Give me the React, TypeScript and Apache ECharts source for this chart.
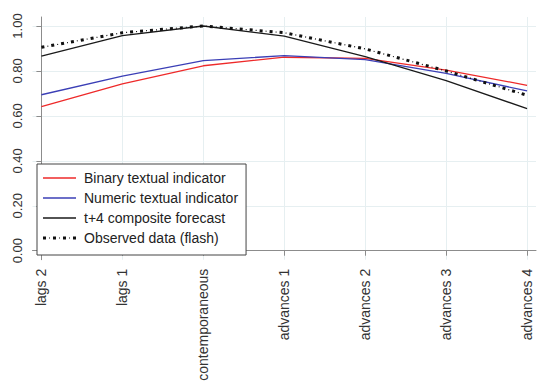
import React, { useEffect, useRef } from "react";
import * as echarts from "echarts";

const categories = [
  "lags 2",
  "lags 1",
  "contemporaneous",
  "advances 1",
  "advances 2",
  "advances 3",
  "advances 4",
];
const yTicks = [0, 0.2, 0.4, 0.6, 0.8, 1.0];

const binaryTextual = [0.641, 0.742, 0.823, 0.861, 0.856, 0.804, 0.736];
const numericTextual = [0.694, 0.777, 0.846, 0.868, 0.850, 0.789, 0.711];
const compositeForecast = [0.866, 0.957, 1.0, 0.955, 0.864, 0.757, 0.632];
const observedFlash = [0.905, 0.970, 1.0, 0.970, 0.898, 0.800, 0.692];

const seriesNames = [
  "Binary textual indicator",
  "Numeric textual indicator",
  "t+4 composite forecast",
  "Observed data (flash)",
];
const seriesColors = ["#ee2a2a", "#3b3fb6", "#1a1a1a", "#111111"];

const toPairs = (arr: number[]) => arr.map((v, i) => [i, v]);

const FONT = "'Liberation Sans', Arial, sans-serif";
const LINE_ICON = "path://M0,0h33v1.3h-33z";
const OBS_ICON =
  "path://M0,0h3v3h-3z M10,0h3v3h-3z M20,0h3v3h-3z M30,0h3v3h-3z M6,1h1v1h-1z M16,1h1v1h-1z M26,1h1v1h-1z";

export default function App() {
  const ref = useRef<HTMLDivElement>(null);
  useEffect(() => {
    document.body.style.margin = "0";
    if (!ref.current) return;
    const chart = echarts.init(ref.current, null, { renderer: "svg" });
    const xIdx = categories.map((_, i) => i);
    chart.setOption({
      animation: false,
      backgroundColor: "#ffffff",
      textStyle: { fontFamily: FONT },
      grid: {
        left: 32.5,
        right: 6,
        top: 17,
        bottom: 123.3,
        containLabel: false,
        outerBoundsMode: "none",
      },
      xAxis: {
        type: "value",
        min: -0.11,
        max: 6.11,
        axisLine: { show: true, lineStyle: { color: "#8c8c8c", width: 1 } },
        axisTick: {
          show: true,
          length: 5,
          customValues: xIdx,
          lineStyle: { color: "#8c8c8c" },
        },
        axisLabel: {
          customValues: xIdx,
          rotate: 90,
          margin: 9,
          fontSize: 14,
          color: "#333",
          fontFamily: FONT,
          formatter: (v: number) => categories[Math.round(v)] ?? "",
        },
        splitLine: { show: true, lineStyle: { color: "#e6eff1", width: 1 } },
      },
      yAxis: {
        type: "value",
        min: -0.04,
        max: 1.04,
        axisLine: { show: true, lineStyle: { color: "#8c8c8c", width: 1 } },
        axisTick: {
          show: true,
          length: 5,
          customValues: yTicks,
          lineStyle: { color: "#8c8c8c" },
        },
        axisLabel: {
          customValues: yTicks,
          rotate: 90,
          margin: 9,
          fontSize: 13,
          color: "#333",
          fontFamily: FONT,
          formatter: (v: number) => v.toFixed(2),
        },
        splitLine: { show: true, lineStyle: { color: "#e6eff1", width: 1 } },
      },
      legend: {
        orient: "vertical",
        left: 37,
        top: 164,
        padding: [7, 8, 10, 6],
        itemGap: 6,
        itemWidth: 33,
        itemHeight: 14,
        backgroundColor: "#ffffff",
        borderColor: "#444",
        borderWidth: 1,
        borderRadius: 0,
        textStyle: {
          fontSize: 14,
          color: "#222",
          fontFamily: FONT,
          padding: [0, 0, 0, 3],
        },
        data: seriesNames.map((name, i) => ({
          name,
          icon: i === 3 ? OBS_ICON : LINE_ICON,
          itemStyle: { color: seriesColors[i], borderWidth: 0 },
        })),
      },
      series: [
        {
          name: seriesNames[0],
          type: "line",
          data: toPairs(binaryTextual),
          symbol: "none",
          color: seriesColors[0],
          lineStyle: { color: seriesColors[0], width: 1.3 },
        },
        {
          name: seriesNames[1],
          type: "line",
          data: toPairs(numericTextual),
          symbol: "none",
          color: seriesColors[1],
          lineStyle: { color: seriesColors[1], width: 1.3 },
        },
        {
          name: seriesNames[2],
          type: "line",
          data: toPairs(compositeForecast),
          symbol: "none",
          color: seriesColors[2],
          lineStyle: { color: seriesColors[2], width: 1.3 },
        },
        {
          name: seriesNames[3],
          type: "line",
          data: toPairs(observedFlash),
          symbol: "none",
          color: seriesColors[3],
          lineStyle: {
            color: seriesColors[3],
            width: 3,
            type: [3, 7],
            cap: "butt",
          },
        },
        {
          name: "__obsdots",
          type: "line",
          data: toPairs(observedFlash),
          symbol: "none",
          silent: true,
          color: seriesColors[3],
          lineStyle: {
            color: seriesColors[3],
            width: 1.2,
            type: [1, 9],
            dashOffset: 4,
            cap: "butt",
          },
        },
      ],
    });
    return () => chart.dispose();
  }, []);
  return <div ref={ref} style={{ width: 542, height: 383 }} />;
}
